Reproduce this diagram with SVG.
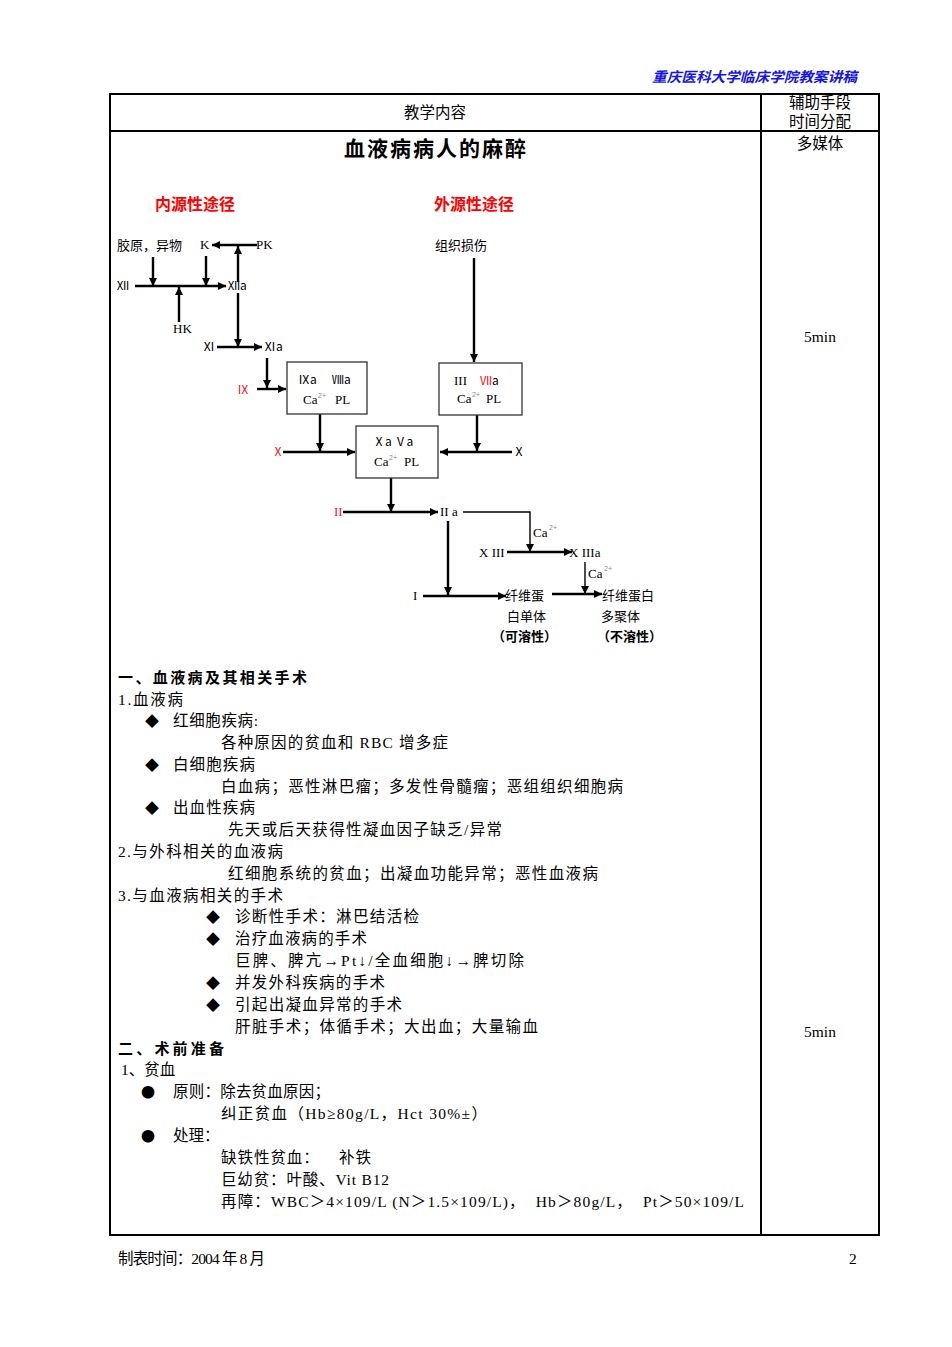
<svg xmlns="http://www.w3.org/2000/svg" width="952" height="1347" viewBox="0 0 952 1347">
<style>
.bg{fill:#fff}
.frame{fill:none;stroke:#000;stroke-width:2}
.t{font-family:"Liberation Serif","Noto Sans CJK SC",serif;font-size:15.5px;fill:#000}
.bul{font-family:"Noto Sans CJK SC",sans-serif;font-size:14px;fill:#000}
.b{font-family:"Noto Sans CJK SC",sans-serif;font-weight:bold;font-size:15px;fill:#000}
.s{font-family:"Liberation Serif","DejaVu Serif","Noto Sans CJK SC",serif;font-size:13px;fill:#000}
.rn{font-family:"Noto Sans CJK SC",sans-serif;font-size:12px;fill:#000}
.cn{font-family:"Noto Sans CJK SC",sans-serif;font-size:13px;fill:#000}
.sup{font-family:"Liberation Sans",sans-serif;font-size:7px;fill:#888}
.red{fill:#e8202a}
.hd{font-family:"Noto Sans CJK SC",sans-serif;font-weight:bold;font-size:16px;fill:#ff0000}
.box{fill:#fff;stroke:#333;stroke-width:1.3}
.c{fill:none;stroke:#000;stroke-width:2.4}
.c2{fill:none;stroke:#000;stroke-width:1.4}
</style>
<defs>
<marker id="ah" viewBox="0 0 10 10" refX="10" refY="5" markerWidth="9" markerHeight="8" markerUnits="userSpaceOnUse" orient="auto"><path d="M0,0 L10,5 L0,10 z" fill="#000"/></marker>
</defs>
<rect class="bg" x="0" y="0" width="952" height="1347"/>
<g id="page-header">
<text x="857" y="82" text-anchor="end" font-family="Noto Sans CJK SC,sans-serif" font-size="14" font-weight="bold" font-style="italic" fill="#1515e6" textLength="205" lengthAdjust="spacingAndGlyphs">重庆医科大学临床学院教案讲稿</text>
</g>
<g id="table">
<rect class="frame" x="110" y="94" width="769" height="1141"/>
<line class="frame" x1="110" y1="131" x2="879" y2="131"/>
<line class="frame" x1="761" y1="94" x2="761" y2="1235"/>
<text class="t" x="435" y="118" text-anchor="middle" font-size="13">教学内容</text>
<text class="t" x="820" y="108" text-anchor="middle" font-size="13">辅助手段</text>
<text class="t" x="820" y="127" text-anchor="middle" font-size="13">时间分配</text>
<text x="435" y="156" text-anchor="middle" font-family="Noto Sans CJK SC,sans-serif" font-weight="bold" font-size="21" textLength="182">血液病病人的麻醉</text>
<text class="t" x="820" y="149" text-anchor="middle">多媒体</text>
<text class="t" x="820" y="342" text-anchor="middle">5min</text>
<text class="t" x="820" y="1037" text-anchor="middle">5min</text>
</g>
<g id="connectors">
<path class="c" d="M153,257 V286" marker-end="url(#ah)"/>
<path class="c" d="M206,256 V286" marker-end="url(#ah)"/>
<path class="c" d="M135,286 H226" marker-end="url(#ah)"/>
<path class="c" d="M179,322 V287" marker-end="url(#ah)"/>
<path class="c" d="M257,245 H212" marker-end="url(#ah)"/>
<path class="c" d="M238,282 V246" marker-end="url(#ah)"/>
<path class="c" d="M238,293 V347" marker-end="url(#ah)"/>
<path class="c" d="M217,347 H262" marker-end="url(#ah)"/>
<path class="c" d="M267,358 V388" marker-end="url(#ah)"/>
<path class="c" d="M257,389 H286" marker-end="url(#ah)"/>
<path class="c" d="M320,414 V451" marker-end="url(#ah)"/>
<path class="c" d="M283,452 H355" marker-end="url(#ah)"/>
<path class="c" d="M474,258 V362" marker-end="url(#ah)"/>
<path class="c" d="M477,415 V451" marker-end="url(#ah)"/>
<path class="c" d="M512,452 H440" marker-end="url(#ah)"/>
<path class="c" d="M391,478 V512" marker-end="url(#ah)"/>
<path class="c" d="M343,512 H438" marker-end="url(#ah)"/>
<path class="c2" d="M463,512 H530 V552" marker-end="url(#ah)"/>
<path class="c" d="M507,552 H572" marker-end="url(#ah)"/>
<path class="c2" d="M585,562 V594" marker-end="url(#ah)"/>
<path class="c" d="M448,521 V595" marker-end="url(#ah)"/>
<path class="c" d="M423,596 H506" marker-end="url(#ah)"/>
<path class="c" d="M552,594 H602" marker-end="url(#ah)"/>
</g>
<g id="n-intrinsic"><text class="hd" x="155" y="210">内源性途径</text></g>
<g id="n-extrinsic"><text class="hd" x="434" y="210">外源性途径</text></g>
<g id="n-collagen"><text class="cn" x="117" y="250">胶原，异物</text></g>
<g id="n-k"><text class="s" x="200" y="249">K</text></g>
<g id="n-pk"><text class="s" x="256" y="249">PK</text></g>
<g id="n-xii"><text class="rn" x="117" y="290">Ⅻ</text></g>
<g id="n-xiia"><text class="rn" x="228" y="290">Ⅻa</text></g>
<g id="n-hk"><text class="s" x="173" y="333">HK</text></g>
<g id="n-xi"><text class="rn" x="203" y="351">Ⅺ</text></g>
<g id="n-xia"><text class="rn" x="264" y="351">Ⅺa</text></g>
<g id="n-ix"><text class="rn red" x="237" y="394">Ⅸ</text></g>
<g id="n-box1">
<rect class="box" x="287" y="362" width="80" height="52"/>
<text class="rn" x="298" y="384">Ⅸa</text>
<text class="rn" x="332" y="384">Ⅷa</text>
<text class="s" x="303" y="404">Ca</text>
<text class="sup" x="318" y="398">2+</text>
<text class="s" x="335" y="404">PL</text>
</g>
<g id="n-x-left"><text class="rn red" x="272" y="456">Ⅹ</text></g>
<g id="n-box2">
<rect class="box" x="356" y="426" width="82" height="52"/>
<text class="rn" x="373" y="446">Ⅹa Ⅴa</text>
<text class="s" x="374" y="466">Ca</text>
<text class="sup" x="389" y="460">2+</text>
<text class="s" x="404" y="466">PL</text>
</g>
<g id="n-tissue"><text class="cn" x="435" y="250">组织损伤</text></g>
<g id="n-box3">
<rect class="box" x="439" y="363" width="83" height="52"/>
<text class="s" x="454" y="385">III</text>
<text class="rn" x="480" y="385"><tspan class="red">Ⅶ</tspan>a</text>
<text class="s" x="457" y="403">Ca</text>
<text class="sup" x="472" y="397">2+</text>
<text class="s" x="486" y="403">PL</text>
</g>
<g id="n-x-right"><text class="rn" x="513" y="456">Ⅹ</text></g>
<g id="n-ii"><text class="s red" x="334" y="516">II</text></g>
<g id="n-iia"><text class="s" x="440" y="516">II a</text></g>
<g id="n-ca1"><text class="s" x="533" y="537">Ca</text><text class="sup" x="549" y="530">2+</text></g>
<g id="n-xiii"><text class="s" x="479" y="557">X III</text></g>
<g id="n-xiiia"><text class="s" x="569" y="557">X IIIa</text></g>
<g id="n-ca2"><text class="s" x="588" y="578">Ca</text><text class="sup" x="604" y="571">2+</text></g>
<g id="n-i"><text class="s" x="413" y="600">I</text></g>
<g id="n-fibrin-mono">
<text class="cn" x="505" y="600">纤维蛋</text>
<text class="cn" x="507" y="621">白单体</text>
<text class="cn" x="492" y="641" font-weight="bold">（可溶性）</text>
</g>
<g id="n-fibrin-poly">
<text class="cn" x="602" y="600">纤维蛋白</text>
<text class="cn" x="601" y="621">多聚体</text>
<text class="cn" x="597" y="641" font-weight="bold">（不溶性）</text>
</g>
<g id="body-text">
<text class="b" x="118" y="683" textLength="189">一、血液病及其相关手术</text>
<text class="t" x="118" y="705" textLength="65">1.血液病</text>
<text class="bul" x="145" y="726">◆</text>
<text class="t" x="173" y="726" textLength="85">红细胞疾病:</text>
<text class="t" x="221" y="748" textLength="227">各种原因的贫血和 RBC 增多症</text>
<text class="bul" x="145" y="770">◆</text>
<text class="t" x="173" y="770" textLength="82">白细胞疾病</text>
<text class="t" x="221" y="792" textLength="402">白血病；恶性淋巴瘤；多发性骨髓瘤；恶组组织细胞病</text>
<text class="bul" x="145" y="813">◆</text>
<text class="t" x="173" y="813" textLength="82">出血性疾病</text>
<text class="t" x="228" y="835" textLength="274">先天或后天获得性凝血因子缺乏/异常</text>
<text class="t" x="118" y="857" textLength="165">2.与外科相关的血液病</text>
<text class="t" x="228" y="879" textLength="370">红细胞系统的贫血；出凝血功能异常；恶性血液病</text>
<text class="t" x="118" y="901" textLength="165">3.与血液病相关的手术</text>
<text class="bul" x="206" y="922">◆</text>
<text class="t" x="235" y="922" textLength="184">诊断性手术：淋巴结活检</text>
<text class="bul" x="206" y="944">◆</text>
<text class="t" x="235" y="944" textLength="132">治疗血液病的手术</text>
<text class="t" x="235" y="966" textLength="289">巨脾、脾亢→Pt↓/全血细胞↓→脾切除</text>
<text class="bul" x="206" y="988">◆</text>
<text class="t" x="235" y="988" textLength="150">并发外科疾病的手术</text>
<text class="bul" x="206" y="1010">◆</text>
<text class="t" x="235" y="1010" textLength="167">引起出凝血异常的手术</text>
<text class="t" x="235" y="1032" textLength="303">肝脏手术；体循手术；大出血；大量输血</text>
<text class="b" x="118" y="1054" textLength="106">二、术前准备</text>
<text class="t" x="121" y="1075">1、贫血</text>
<text class="bul" x="141" y="1097">●</text>
<text class="t" x="173" y="1097" textLength="157">原则：除去贫血原因；</text>
<text class="t" x="221" y="1119" textLength="266">纠正贫血（Hb≥80g/L，Hct 30%±）</text>
<text class="bul" x="141" y="1141">●</text>
<text class="t" x="173" y="1141">处理：</text>
<text class="t" x="221" y="1163" textLength="150" xml:space="preserve">缺铁性贫血：    补铁</text>
<text class="t" x="221" y="1185" textLength="168">巨幼贫：叶酸、Vit B12</text>
<text class="t" x="221" y="1207" textLength="523" xml:space="preserve">再障：WBC＞4×109/L (N＞1.5×109/L)，  Hb＞80g/L，  Pt＞50×109/L</text>
</g>
<g id="footer">
<text class="t" x="118" y="1264" font-size="13" textLength="147">制表时间：2004 年 8 月</text>
<text class="t" x="849" y="1264" font-size="13">2</text>
</g>
</svg>
